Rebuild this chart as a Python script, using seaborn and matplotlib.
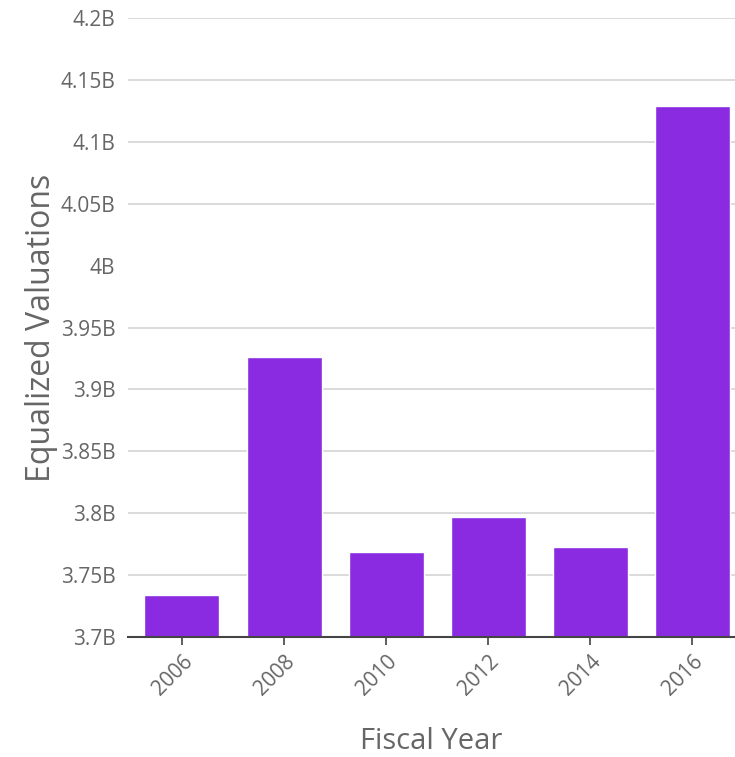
import matplotlib
matplotlib.use("Agg")
import matplotlib.pyplot as plt
import matplotlib.ticker as mticker
import seaborn as sns
import pandas as pd
import numpy as np

years = ["2006", "2008", "2010", "2012", "2014", "2016"]
values_b = [3.734, 3.926, 3.769, 3.797, 3.773, 4.129]  # billions
yticks_b = [3.7, 3.75, 3.8, 3.85, 3.9, 3.95, 4.0, 4.05, 4.1, 4.15, 4.2]

df = pd.DataFrame({"Fiscal Year": years, "Equalized Valuations": values_b})

sns.set_theme(style="white")
plt.rcParams["font.family"] = ["Open Sans", "DejaVu Sans"]

fig = plt.figure(figsize=(7.35, 7.57), dpi=100)
ax = fig.add_axes([0.174, 0.1585, 0.826, 0.8175])

sns.barplot(data=df, x="Fiscal Year", y="Equalized Valuations", order=years,
            color="#8A2BE2", saturation=1, width=0.735, ax=ax)

ax.set_ylim(3.7, 4.2)
ax.set_xlim(-0.53, 5.42)
ax.set_yticks(yticks_b)
ax.yaxis.set_major_formatter(mticker.FuncFormatter(lambda v, p: f"{round(v, 2):g}B"))

ax.yaxis.grid(True, color="#d4d4d4", linewidth=1.2)
ax.set_axisbelow(True)
for t, gl in zip(yticks_b, ax.yaxis.get_gridlines()):
    if abs(t - 4.0) < 1e-9:
        gl.set_visible(False)

for s in ["top", "right", "left"]:
    ax.spines[s].set_visible(False)
ax.spines["bottom"].set_color("#444444")
ax.spines["bottom"].set_linewidth(1.5)

ax.tick_params(axis="y", length=0, labelsize=15, labelcolor="#666666", pad=9)
ax.tick_params(axis="x", length=6, width=1.2, color="#444444", direction="out",
               labelsize=15, labelcolor="#666666", bottom=True, pad=4)
plt.setp(ax.get_xticklabels(), rotation=45, ha="right", rotation_mode="anchor")

ax.set_xlabel("Fiscal Year", fontsize=21, color="#666666", labelpad=20)
ax.set_ylabel("Equalized Valuations", fontsize=23, color="#666666", labelpad=2)

fig.savefig("out.png", dpi=100)
